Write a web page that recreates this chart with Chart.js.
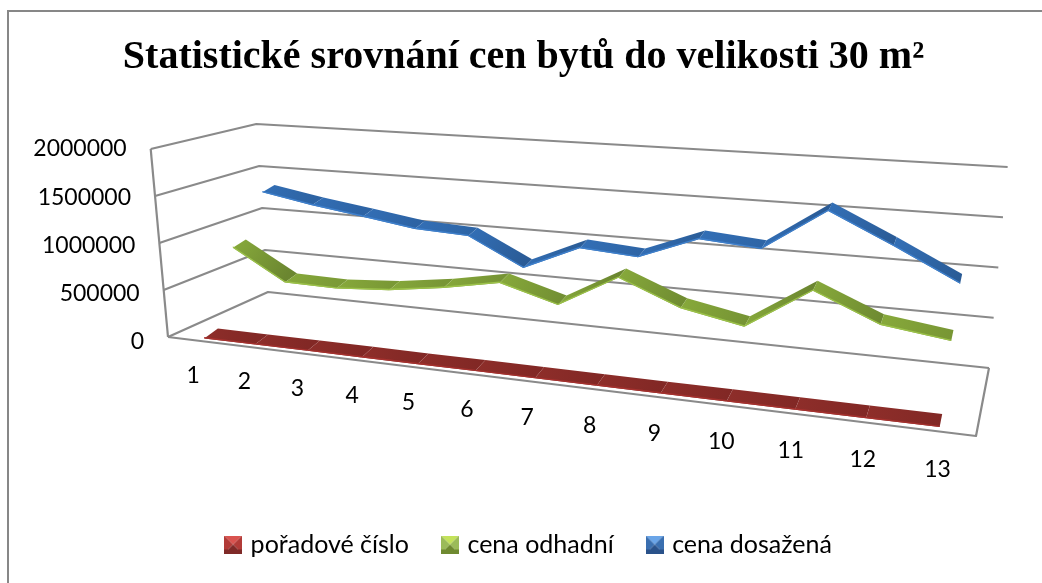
<!DOCTYPE html>
<html><head><meta charset="utf-8">
<style>html,body{margin:0;padding:0;background:#fff}canvas{display:block}</style>
<script src="https://cdn.jsdelivr.net/npm/chart.js@4"></script>
</head><body>
<canvas id="c" width="1042" height="583"></canvas>
<script>
const chartTitle = "Statistické srovnání cen bytů do velikosti 30 m²";
const categories = ["1","2","3","4","5","6","7","8","9","10","11","12","13"];
const yTickValues = [0,500000,1000000,1500000,2000000];
const poradoveCislo = [1,2,3,4,5,6,7,8,9,10,11,12,13];
const cenaOdhadni = [830000,500000,490000,530000,610000,720000,550000,885000,640000,520000,930000,665000,580000];
const cenaDosazena = [1330000,1225000,1140000,1050000,1020000,725000,990000,945000,1185000,1135000,1570000,1270000,955000];

/* camera: floor corners of the 3D box */
const A=[168,337],B=[976,436],D=[989,368],C=[268,292];
const H0=188, leanK=0.000225, leanX=577, hU=-0.1837, hZ=0.119;
const det=(B[0]-D[0])*(C[1]-D[1])-(B[1]-D[1])*(C[0]-D[0]);
const sx=A[0]-B[0]+D[0]-C[0], sy=A[1]-B[1]+D[1]-C[1];
const g=(sx*(C[1]-D[1])-sy*(C[0]-D[0]))/det;
const h=((B[0]-D[0])*sy-(B[1]-D[1])*sx)/det;
function project(u,v,z){
  const w=1+g*u+h*z;
  const fx=((B[0]*(1+g)-A[0])*u+(C[0]*(1+h)-A[0])*z+A[0])/w;
  const fy=((B[1]*(1+g)-A[1])*u+(C[1]*(1+h)-A[1])*z+A[1])/w;
  const H=H0/(1+hU*u+hZ*z);
  return {x:fx+leanK*(fx-leanX)*v*H, y:fy-v*H};
}
function hex(c){return [parseInt(c.slice(1,3),16),parseInt(c.slice(3,5),16),parseInt(c.slice(5,7),16)];}
function mix(a,b,t){const p=hex(a),q=hex(b);return 'rgb('+p.map((x,i)=>Math.round(x+(q[i]-x)*t)).join(',')+')';}

const looks=[
 {z:1/6,base:'#832825',light:'#93302c',dark:'#7b2522',edge:'#a5312e'},
 {z:1/2,base:'#7f9f37',light:'#8aad3d',dark:'#6b8630',edge:'#9cc24a'},
 {z:5/6,base:'#2f69ad',light:'#3572ba',dark:'#2a5a94',edge:'#3f80cc'}
];
function marker(top,side,bottom){
  const s=18,c=document.createElement('canvas');c.width=s;c.height=s;
  const x=c.getContext('2d'),q=4;
  const tri=(p,col)=>{x.fillStyle=col;x.beginPath();p.forEach((a,i)=>i?x.lineTo(a[0],a[1]):x.moveTo(a[0],a[1]));x.closePath();x.fill();};
  tri([[0,0],[s,0],[s/2,s/2]],top);
  tri([[0,0],[0,s],[s/2,s/2]],side);
  tri([[s,0],[s,s],[s/2,s/2]],side);
  tri([[0,s],[s,s],[s/2,s/2]],bottom);
  x.fillStyle=bottom;x.fillRect(0,s-q,s,q);
  return c;
}
const ribbon3d={
  id:'ribbon3d',
  afterLayout(chart){
    const t=chart.titleBlock;t.left-=6.5;t.right-=6.5;
  },
  beforeDraw(chart){
    const x=chart.ctx;
    x.save();x.fillStyle='#fff';x.fillRect(0,0,1042,583);
    x.strokeStyle='#878787';x.lineWidth=2;
    x.beginPath();x.moveTo(8,583);x.lineTo(8,11);x.lineTo(1042,11);x.stroke();
    x.restore();
  },
  beforeDatasetsDraw(chart){
    const x=chart.ctx,ys=chart.scales.y,a=chart.chartArea;
    const line=(pts)=>{x.beginPath();pts.forEach((p,i)=>i?x.lineTo(p.x,p.y):x.moveTo(p.x,p.y));x.stroke();};
    x.save();x.strokeStyle='#8a8a8a';x.lineWidth=2.2;x.lineJoin='round';
    ys.ticks.forEach(t=>{
      const v=(a.bottom-ys.getPixelForValue(t.value))/a.height;
      line([project(0,v,0),project(0,v,1),project(1,v,1)]);
    });
    line([project(0,0,0),project(0,1,0)]);
    line([project(0,0,0),project(1,0,0),project(1,0,1)]);
    /* axis labels */
    x.fillStyle='#000';x.font='23px Lato';x.textBaseline='middle';
    x.textAlign='right';
    ys.ticks.forEach(t=>{
      const py=ys.getPixelForValue(t.value),v=(a.bottom-py)/a.height;
      x.fillText(String(t.value),project(0,v,0).x-24,py);
    });
    x.textAlign='center';
    const xs=chart.scales.x;
    categories.forEach((lab,i)=>{
      const u=(xs.getPixelForValue(i)-a.left)/a.width,p=project(u,0,0);
      x.fillText(lab,p.x,p.y+35+3*u);
    });
    x.restore();
  },
  beforeDatasetDraw(chart,args){
    const meta=args.meta,look=looks[args.index],a=chart.chartArea,x=chart.ctx,d=0.065,t=3.5;
    const pts=meta.data.map(el=>({u:(el.x-a.left)/a.width,v:(a.bottom-el.y)/a.height}));
    x.save();
    for(let i=0;i<pts.length-1;i++){
      const p=pts[i],q=pts[i+1];
      const f0=project(p.u,p.v,look.z-d),f1=project(q.u,q.v,look.z-d);
      const b1=project(q.u,q.v,look.z+d),b0=project(p.u,p.v,look.z+d);
      const steep=Math.min(1,Math.abs(q.v-p.v)*6);
      const gr=x.createLinearGradient(f0.x,f0.y,f1.x,f1.y);
      gr.addColorStop(0,mix(look.base,look.light,0.7));
      gr.addColorStop(1,mix(look.base,look.dark,0.15+0.85*steep));
      /* depth face plus a small front thickness */
      x.fillStyle=gr;
      x.beginPath();x.moveTo(f0.x,f0.y+t);x.lineTo(f1.x,f1.y+t);x.lineTo(b1.x,b1.y);x.lineTo(b0.x,b0.y);x.closePath();x.fill();
      x.fillStyle=look.edge;
      x.beginPath();x.moveTo(f0.x,f0.y+t-1.4);x.lineTo(f1.x,f1.y+t-1.4);x.lineTo(f1.x,f1.y+t);x.lineTo(f0.x,f0.y+t);x.closePath();x.fill();
    }
    x.restore();
    return false;
  }
};
new Chart(document.getElementById('c'),{
  type:'line',
  data:{labels:categories,datasets:[
    {label:'pořadové číslo',data:poradoveCislo,borderColor:'#8a2b29',backgroundColor:'#8a2b29',pointStyle:marker('#d9534f','#b23b38','#7f2a28')},
    {label:'cena odhadní',data:cenaOdhadni,borderColor:'#7f9f37',backgroundColor:'#7f9f37',pointStyle:marker('#c3e25a','#9bbb59','#6f8a30')},
    {label:'cena dosažená',data:cenaDosazena,borderColor:'#2f69ad',backgroundColor:'#2f69ad',pointStyle:marker('#6aa5e8','#3a6fb0','#2a528a')}
  ]},
  plugins:[ribbon3d],
  options:{
    responsive:false,animation:false,
    font:{family:'Lato'},
    layout:{padding:{left:18,right:0,top:0,bottom:16}},
    plugins:{
      tooltip:{enabled:false},
      title:{display:true,text:chartTitle,color:'#000',
        font:{family:'"Liberation Serif"',size:40,weight:'bold',lineHeight:1.2},
        padding:{top:34,bottom:67}},
      legend:{display:true,position:'bottom',
        labels:{usePointStyle:true,pointStyleWidth:10,padding:36,color:'#000',font:{family:'Lato',size:25}}}
    },
    scales:{
      x:{type:'category',offset:true,display:true,grid:{display:false},border:{display:false},ticks:{display:false},
         afterFit(s){s.height=154;}},
      y:{type:'linear',min:0,max:2000000,display:true,position:'left',grid:{display:false},border:{display:false},
         ticks:{display:false,stepSize:500000},afterFit(s){s.width=150;}},
      yEnd:{type:'linear',display:true,position:'right',grid:{display:false},border:{display:false},
         ticks:{display:false},afterFit(s){s.width=66;}}
    }
  }
});
</script>
</body></html>
